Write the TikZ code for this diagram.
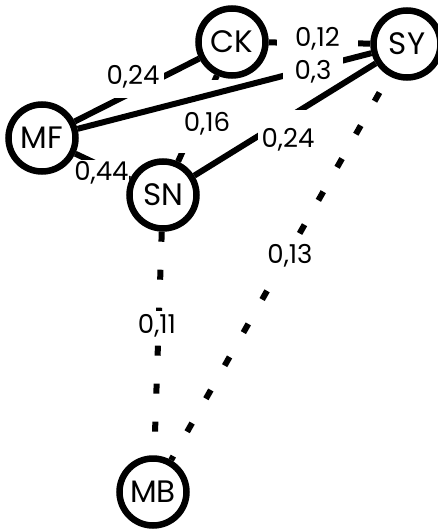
\documentclass[tikz,border=0pt]{standalone}
\usepackage{fontspec}
\setmainfont{Poppins}
\pgfdeclarelayer{edges}
\pgfsetlayers{edges,main}
\begin{document}
\begin{tikzpicture}[x=1pt,y=-1pt,
  vert/.style={circle,draw=black,line width=6.5pt,fill=white,minimum size=67pt,inner sep=0pt,font=\fontsize{31}{33}\selectfont},
  edge/.style={line width=6pt,black},
  dashedge/.style={edge,dash pattern=on 10pt off 28pt},
  lbl/.style={fill=white,inner sep=0pt,font=\fontsize{26}{28}\selectfont,text height=18pt,text depth=0pt},
  box/.style 2 args={minimum width=#1,minimum height=#2}
]
\useasboundingbox (0,0) rectangle (437,530);
\node[vert] (CK) at (232,42) {CK};
\node[vert] (SY) at (407,44) {SY};
\node[vert] (MF) at (42,138) {MF};
\node[vert] (SN) at (163,195) {SN};
\node[vert] (MB) at (153,492) {MB};
\begin{pgfonlayer}{edges}
\draw[edge] (CK) -- (SN);
\node[lbl,box={58pt}{73pt},text height=29pt] (l4) at (207,116.5) {0,16};
\draw[edge] (MF) -- (CK);
\node[lbl,box={62pt}{46pt}] (l1) at (133,75) {0,24};
\draw[edge] (CK) -- (SY);
\node[lbl,box={81pt}{28pt}] (l2) at (317.5,37) {0,12};
\draw[edge] (MF) -- (SY);
\node[lbl,box={60pt}{26pt}] (l3) at (313,70) {0,3};
\draw[edge] (MF) -- (SN);
\node[lbl,box={51pt}{22pt}] (l5) at (101.5,171) {0,44};
\draw[edge] (SY) -- (SN);
\node[lbl,box={60pt}{40pt},text height=34pt] (l6) at (288,130) {0,24};
\draw[dashedge,dash phase=19pt] (SY) -- (MB);
\node[lbl,box={52pt}{28pt}] (l7) at (290,254) {0,13};
\draw[dashedge] (SN) -- (MB);
\node[lbl,box={48pt}{27pt}] (l8) at (157,324.5) {0,11};
\end{pgfonlayer}
\end{tikzpicture}
\end{document}
